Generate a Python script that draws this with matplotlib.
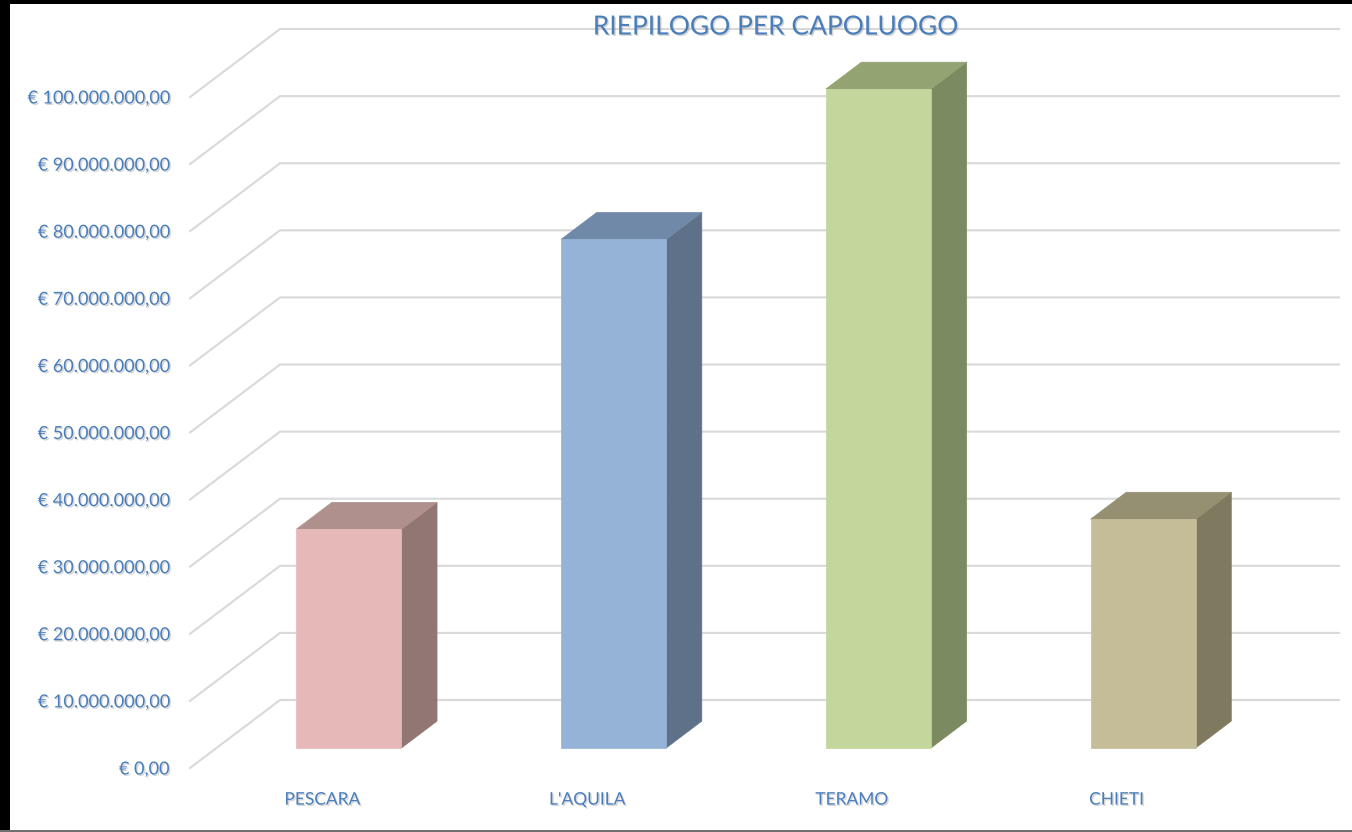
import matplotlib.pyplot as plt
import matplotlib.patheffects as pe
from matplotlib.patches import Polygon, Rectangle
from matplotlib.ticker import FuncFormatter

# data (euro)
cities = ["PESCARA", "L'AQUILA", "TERAMO", "CHIETI"]
totals = [32.6e6, 75.8e6, 98.2e6, 34.1e6]
front_colors = ["#E6B9B8", "#95B3D7", "#C3D69B", "#C4BD97"]
side_colors = ["#917673", "#5F7189", "#7C8A61", "#7F7960"]
top_colors = ["#B0908D", "#7089A8", "#93A472", "#959072"]
y_ticks = [i * 10e6 for i in range(11)]

BLUE = "#4A7EBB"
GRID = "#D9D9D9"
FONT = "Lato"

# oblique 3d: full floor depth in data units, bar placement along depth
DX, DY = 0.34, 10.13e6
T0, T1 = 0.294, 0.69
BAR_W = 0.397


def proj(x, v, t):
    return (x + t * DX, v + t * DY)


def euro(v, pos=None):
    s = f"{v:,.2f}".replace(",", "X").replace(".", ",").replace("X", ".")
    return "€ " + s


fig = plt.figure(figsize=(13.52, 8.32), dpi=100)
W, H = 1352, 832
ax = fig.add_axes([190 / W, (H - 768) / H, (1249 - 190) / W, (768 - 97) / H])
ax.set_xlim(-0.5, 3.5)
ax.set_ylim(0, 100e6)
for s in ax.spines.values():
    s.set_visible(False)
ax.patch.set_visible(False)

shadow = [pe.withSimplePatchShadow(offset=(1, -1), shadow_rgbFace="#888888", alpha=0.35)]

# back wall grid + left wall slants
for v in y_ticks:
    a = proj(-0.5, v, 0)
    b = proj(-0.5, v, 1)
    c = proj(3.5, v, 1)
    ax.plot([a[0], b[0], c[0]], [a[1], b[1], c[1]], color=GRID, lw=1.5,
            clip_on=False, zorder=1, solid_joinstyle="miter")

# bars
for i, (val, fc, sc, tc) in enumerate(zip(totals, front_colors, side_colors, top_colors)):
    x0 = i - BAR_W / 2
    x1 = i + BAR_W / 2
    front = [proj(x0, 0, T0), proj(x1, 0, T0), proj(x1, val, T0), proj(x0, val, T0)]
    side = [proj(x1, 0, T0), proj(x1, 0, T1), proj(x1, val, T1), proj(x1, val, T0)]
    top = [proj(x0, val, T0), proj(x1, val, T0), proj(x1, val, T1), proj(x0, val, T1)]
    for pts, col in ((side, sc), (top, tc), (front, fc)):
        ax.add_patch(Polygon(pts, closed=True, facecolor=col, edgecolor=col,
                             lw=0.5, zorder=3, clip_on=False))

ax.set_yticks(y_ticks)
ax.yaxis.set_major_formatter(FuncFormatter(euro))
ax.set_xticks(range(len(cities)))
ax.set_xticklabels(cities)
ax.tick_params(axis="y", length=0, pad=15, labelcolor=BLUE, labelsize=13)
ax.tick_params(axis="x", length=0, pad=17, labelcolor=BLUE, labelsize=12.5)
for lab in ax.get_yticklabels() + ax.get_xticklabels():
    lab.set_fontfamily(FONT)
    lab.set_path_effects(shadow)

fig.text(775 / W, 1 - 27 / H, "RIEPILOGO PER CAPOLUOGO", ha="center", va="center",
         color=BLUE, fontsize=19, fontfamily=FONT, path_effects=shadow)

# frame of the screenshot
fig.add_artist(Rectangle((0, 0), 10 / W, 1, transform=fig.transFigure,
                         facecolor="black", edgecolor="none"))
fig.add_artist(Rectangle((0, 1 - 4 / H), 1, 4 / H, transform=fig.transFigure,
                         facecolor="black", edgecolor="none"))
fig.add_artist(Rectangle((0, 0), 1, 2 / H, transform=fig.transFigure,
                         facecolor="#707070", edgecolor="none"))

fig.savefig("out.png", dpi=100)
